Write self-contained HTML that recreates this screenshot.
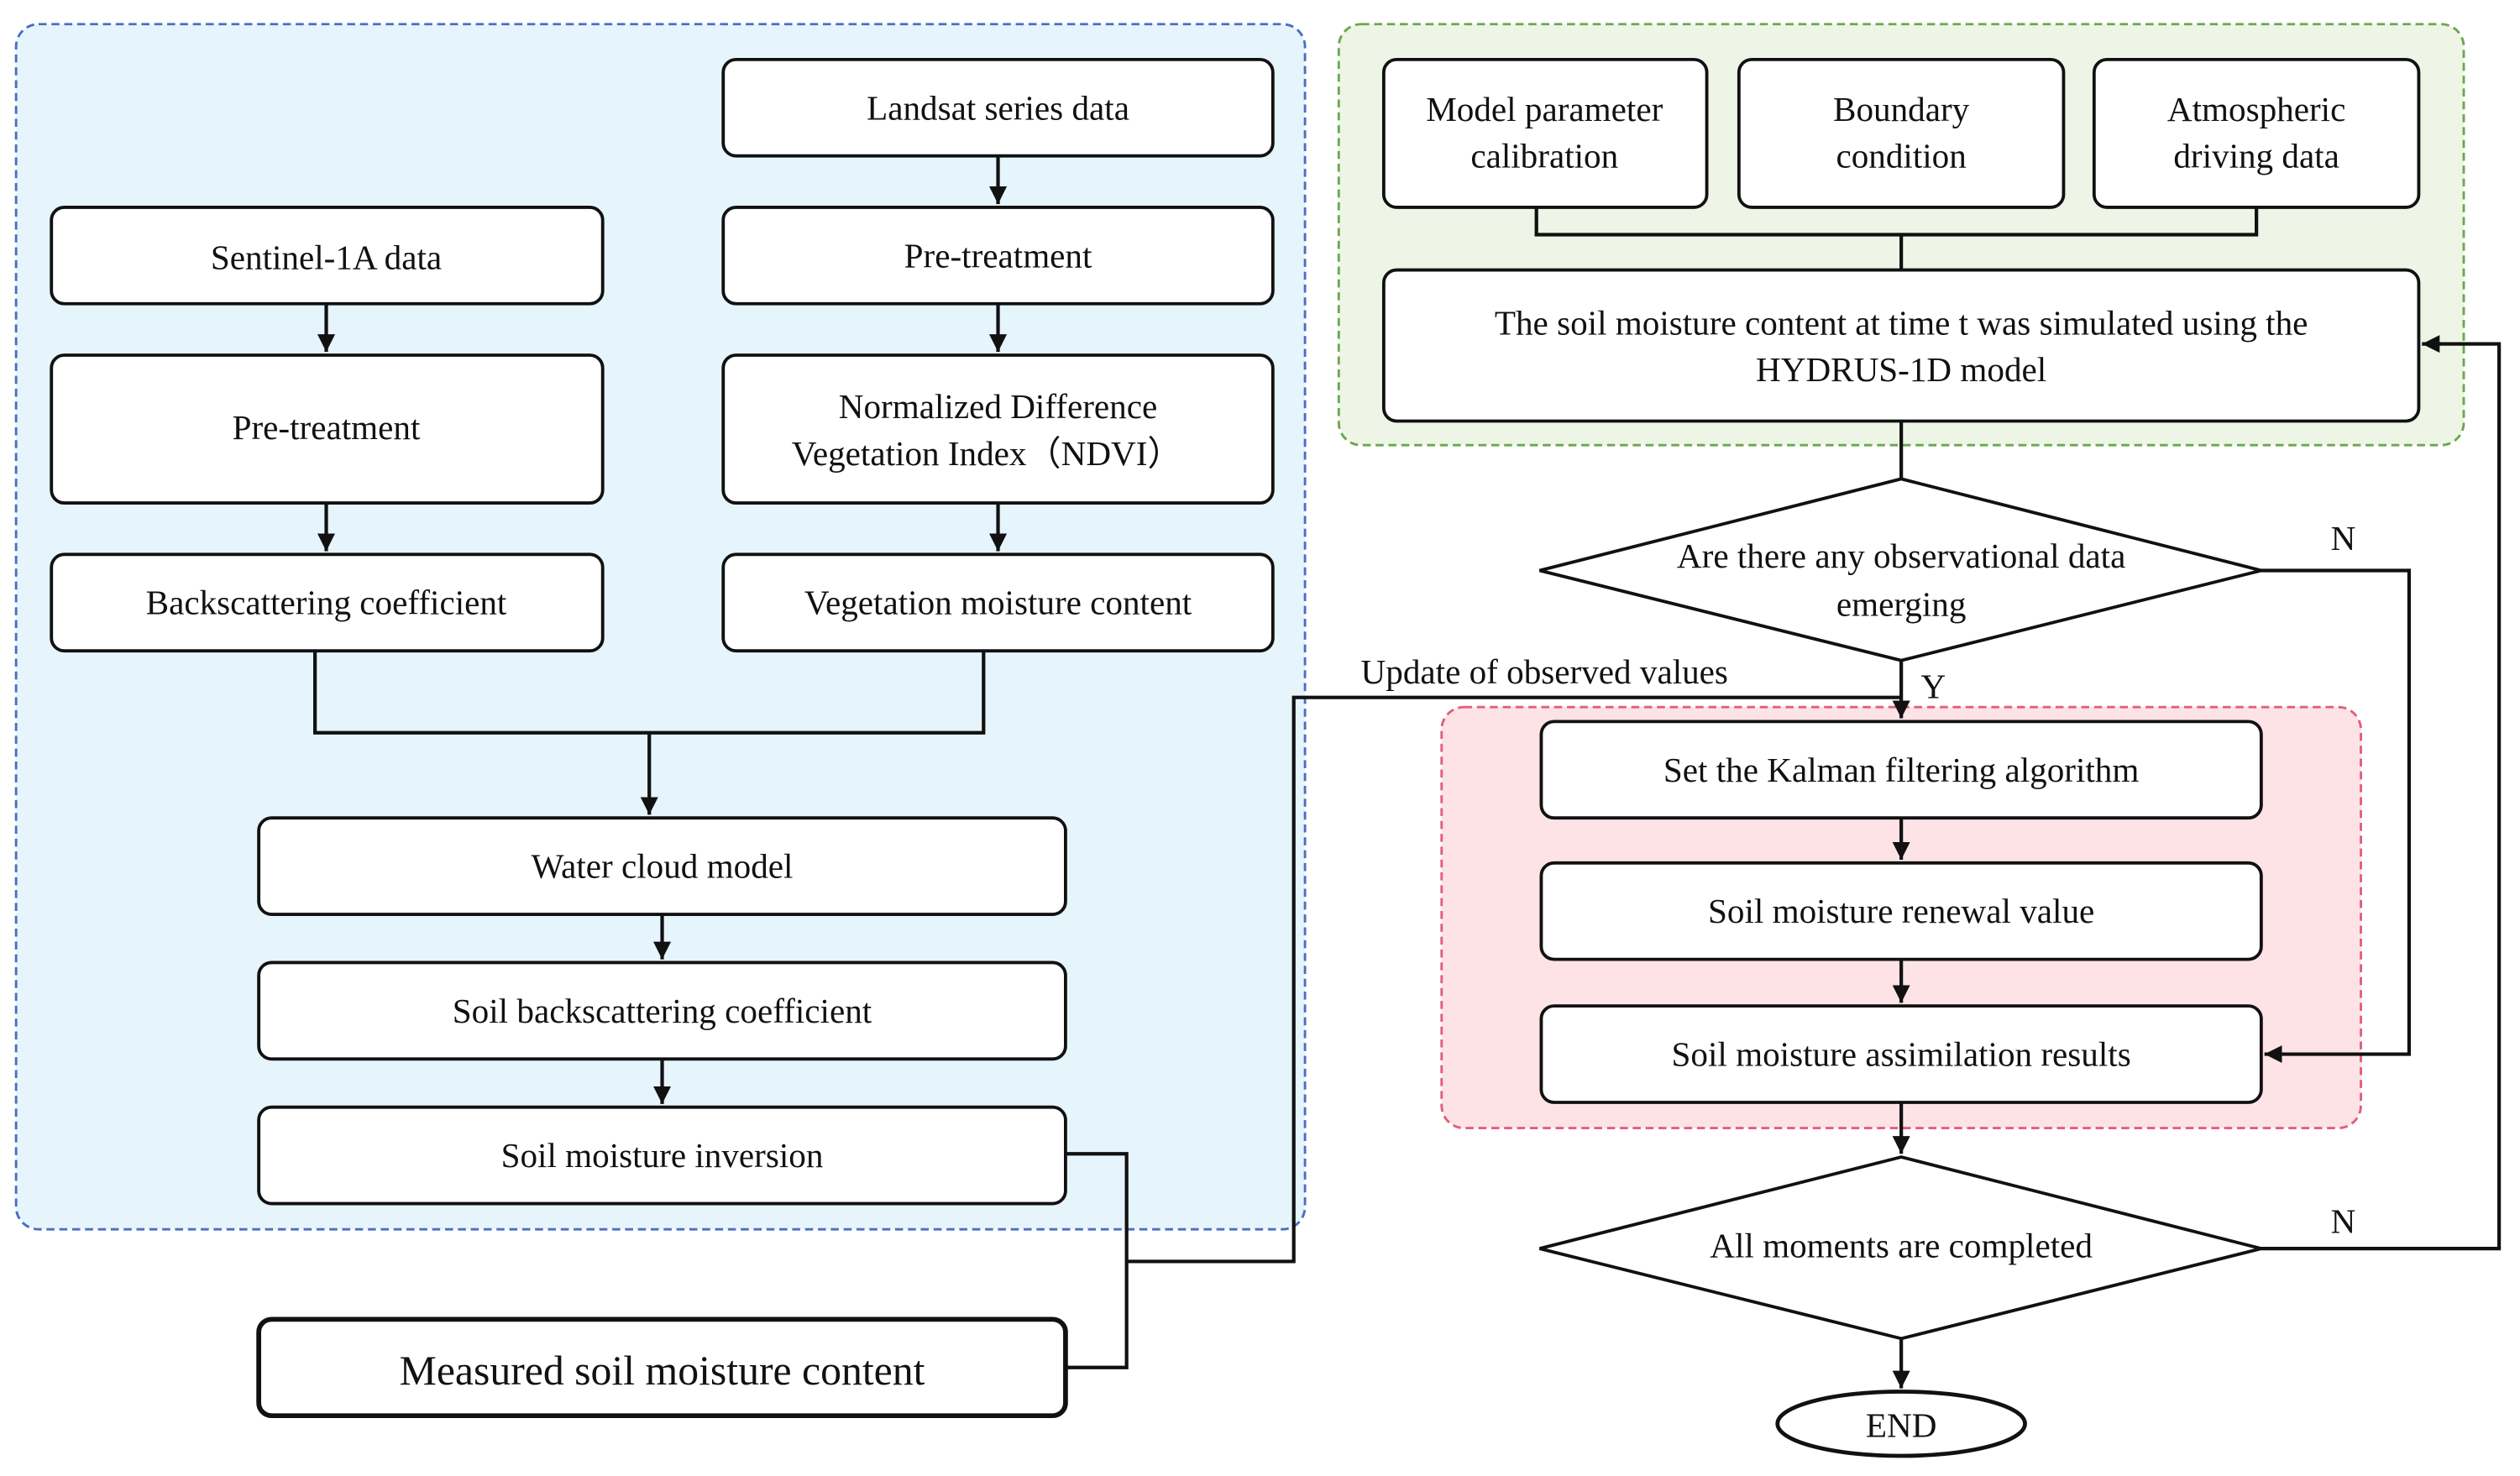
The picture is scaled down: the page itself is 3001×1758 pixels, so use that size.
<!DOCTYPE html>
<html><head><meta charset="utf-8"><style>
html,body{margin:0;padding:0;background:#fff;}
svg{display:block;}
svg text{font-family:"Liberation Serif","Times New Roman","DejaVu Serif",serif;font-size:21.5px;fill:#111;text-anchor:middle;dominant-baseline:central;}
.b{fill:#fff;stroke:#111;stroke-width:2;}
.l{fill:none;stroke:#111;stroke-width:2.2;}
</style></head><body>
<svg width="3001" height="1758" viewBox="0 0 1568 918.5" xmlns="http://www.w3.org/2000/svg" font-family="Liberation Serif, serif">
<defs><marker id="a" viewBox="0 0 10 10" refX="10" refY="5" markerWidth="5" markerHeight="5" orient="auto"><path d="M0,0L10,5L0,10z" fill="#111"/></marker></defs>
<rect x="10" y="15" width="802" height="750" rx="14" fill="#e6f4fc" stroke="#4a6fc0" stroke-width="1.5" stroke-dasharray="5,3"/>
<rect x="833" y="15" width="700" height="262" rx="14" fill="#eef5e6" stroke="#6aa84f" stroke-width="1.5" stroke-dasharray="5,3"/>
<rect x="897" y="440" width="572" height="262" rx="14" fill="#fde3e6" stroke="#e0607a" stroke-width="1.5" stroke-dasharray="5,3"/>

<rect class="b" x="450" y="37" width="342" height="60" rx="8"/><text x="621" y="67">Landsat series data</text>
<rect class="b" x="450" y="129" width="342" height="60" rx="8"/><text x="621" y="159">Pre-treatment</text>
<rect class="b" x="450" y="221" width="342" height="92" rx="8"/><text x="621" y="253">Normalized Difference</text><text x="614" y="282">Vegetation Index（NDVI）</text>
<rect class="b" x="450" y="345" width="342" height="60" rx="8"/><text x="621" y="375">Vegetation moisture content</text>
<rect class="b" x="32" y="129" width="343" height="60" rx="8"/><text x="203" y="160">Sentinel-1A data</text>
<rect class="b" x="32" y="221" width="343" height="92" rx="8"/><text x="203" y="266">Pre-treatment</text>
<rect class="b" x="32" y="345" width="343" height="60" rx="8"/><text x="203" y="375">Backscattering coefficient</text>
<path class="l" d="M621,97V127" marker-end="url(#a)"/><path class="l" d="M621,189V219" marker-end="url(#a)"/><path class="l" d="M621,313V343" marker-end="url(#a)"/>
<path class="l" d="M203,189V219" marker-end="url(#a)"/><path class="l" d="M203,313V343" marker-end="url(#a)"/>
<path class="l" d="M196,405V456H612V405"/><path class="l" d="M404,456V507" marker-end="url(#a)"/>
<rect class="b" x="161" y="509" width="502" height="60" rx="8"/><text x="412" y="539">Water cloud model</text>
<rect class="b" x="161" y="599" width="502" height="60" rx="8"/><text x="412" y="629">Soil backscattering coefficient</text>
<rect class="b" x="161" y="689" width="502" height="60" rx="8"/><text x="412" y="719">Soil moisture inversion</text>
<path class="l" d="M412,569V597" marker-end="url(#a)"/><path class="l" d="M412,659V687" marker-end="url(#a)"/>
<rect x="161" y="821" width="502" height="60" rx="8" fill="#fff" stroke="#111" stroke-width="3"/><text x="412" y="853" style="font-size:26px">Measured soil moisture content</text>
<path class="l" d="M663,718H701V851H663M701,785H805V434H1183"/>
<text x="961" y="418">Update of observed values</text>

<rect class="b" x="861" y="37" width="201" height="92" rx="8"/><text x="961" y="68">Model parameter</text><text x="961" y="97">calibration</text>
<rect class="b" x="1082" y="37" width="202" height="92" rx="8"/><text x="1183" y="68">Boundary</text><text x="1183" y="97">condition</text>
<rect class="b" x="1303" y="37" width="202" height="92" rx="8"/><text x="1404" y="68">Atmospheric</text><text x="1404" y="97">driving data</text>
<path class="l" d="M956,129V146H1404V129M1183,146V168"/>
<rect class="b" x="861" y="168" width="644" height="94" rx="8"/><text x="1183" y="201">The soil moisture content at time t was simulated using the</text><text x="1183" y="230">HYDRUS-1D model</text>
<path class="l" d="M1183,262V298"/>
<polygon class="b" points="958,355 1183,298 1407,355 1183,411"/><text x="1183" y="346">Are there any observational data</text><text x="1183" y="376">emerging</text>
<path class="l" d="M1407,355H1499V656H1409" marker-end="url(#a)"/><text x="1458" y="335">N</text>
<path class="l" d="M1183,411V447" marker-end="url(#a)"/><text x="1203" y="427">Y</text>
<rect class="b" x="959" y="449" width="448" height="60" rx="8"/><text x="1183" y="479">Set the Kalman filtering algorithm</text>
<rect class="b" x="959" y="537" width="448" height="60" rx="8"/><text x="1183" y="567">Soil moisture renewal value</text>
<rect class="b" x="959" y="626" width="448" height="60" rx="8"/><text x="1183" y="656">Soil moisture assimilation results</text>
<path class="l" d="M1183,509V535" marker-end="url(#a)"/><path class="l" d="M1183,597V624" marker-end="url(#a)"/><path class="l" d="M1183,686V718" marker-end="url(#a)"/>
<polygon class="b" points="958,777 1183,720 1407,777 1183,833"/><text x="1183" y="775">All moments are completed</text>
<path class="l" d="M1407,777H1555V214H1507" marker-end="url(#a)"/><text x="1458" y="760">N</text>
<path class="l" d="M1183,833V864" marker-end="url(#a)"/>
<ellipse cx="1183" cy="886" rx="77" ry="20" fill="#fff" stroke="#111" stroke-width="2.5"/><text x="1183" y="887">END</text>
</svg>
</body></html>
